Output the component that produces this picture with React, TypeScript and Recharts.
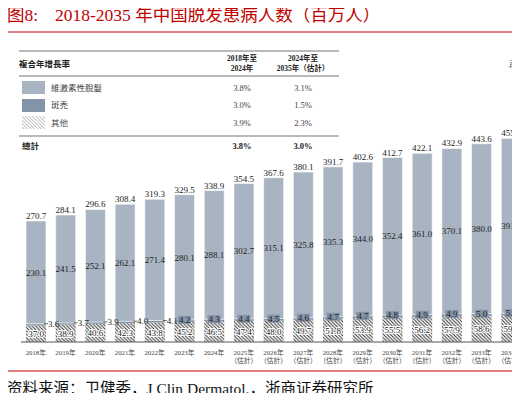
import React from "react";
import { BarChart, Bar, XAxis, YAxis, LabelList } from "recharts";

// 2018-2034 (the 2035 bar is off the right edge of the picture)
const years = ["2018", "2019", "2020", "2021", "2022", "2023", "2024", "2025", "2026", "2027", "2028", "2029", "2030", "2031", "2032", "2033", "2034"];
const otherValues = [37.0, 38.9, 40.6, 42.3, 43.8, 45.2, 46.5, 47.4, 48.0, 49.7, 51.8, 53.9, 55.5, 56.2, 57.9, 58.6, 59.4];
const areataValues = [3.6, 3.7, 3.9, 4.0, 4.1, 4.2, 4.3, 4.4, 4.5, 4.6, 4.7, 4.7, 4.8, 4.9, 4.9, 5.0, 5.0];
const androValues = [230.1, 241.5, 252.1, 262.1, 271.4, 280.1, 288.1, 302.7, 315.1, 325.8, 335.3, 344.0, 352.4, 361.0, 370.1, 380.0, 391.2];
const totalValues = [270.7, 284.1, 296.6, 308.4, 319.3, 329.5, 338.9, 354.5, 367.6, 380.1, 391.7, 402.6, 412.7, 422.1, 432.9, 443.6, 455.6];
const firstEstimateYear = 2025;

// CAGR table
const cagrRows = [
  { name: "維激素性脫髮", a: "3.8%", b: "3.1%" },
  { name: "斑禿", a: "3.0%", b: "1.5%" },
  { name: "其他", a: "3.9%", b: "2.3%" },
];
const cagrTotal = { name: "總計", a: "3.8%", b: "3.0%" };

const data = years.map((y, i) => ({
  year: y,
  other: otherValues[i],
  areata: areataValues[i],
  andro: androValues[i],
  total: totalValues[i],
}));

const LIGHT = "#a9b4c2";
const DARK = "#8393a8";
const SERIF = "'Liberation Serif', 'Noto Sans CJK SC', serif";
const TC = "'Liberation Serif', 'Noto Sans CJK TC', serif";
const SANS_TC = "'Noto Sans CJK TC', sans-serif";

const fmt = (v: any) => Number(v).toFixed(1);

const YearTick = (props: any) => {
  const { x, y, payload } = props;
  const est = Number(payload.value) >= firstEstimateYear;
  return (
    <g>
      <text x={x} y={y + 12.5} textAnchor="middle" fontSize={6.8} fill="#444" fontFamily={TC}>
        {payload.value}年
      </text>
      {est && (
        <text x={x} y={y + 21} textAnchor="middle" fontSize={6.8} fill="#444" fontFamily={TC}>
          （估計）
        </text>
      )}
    </g>
  );
};

const AreataLabel = (props: any) => {
  const { x, y, width, height, index, value } = props;
  const cy = y + height / 2 - 1;
  if (index < 5) {
    return (
      <g>
        <line x1={x + width - 2} x2={x + width + 2} y1={cy} y2={cy} stroke="#333" strokeWidth={0.7} />
        <text x={x + width + 2} y={cy + 3} fontSize={9} fill="#222" fontFamily={SERIF}>
          {fmt(value)}
        </text>
      </g>
    );
  }
  return (
    <g>
      <rect x={x + width / 2 - 6.5} y={cy - 4} width={13} height={8} fill={DARK} />
      <text x={x + width / 2} y={cy + 3} textAnchor="middle" fontSize={9} fill="#222" fontFamily={SERIF}>
        {fmt(value)}
      </text>
    </g>
  );
};

const OtherLabel = (props: any) => {
  const { x, y, width, height, value } = props;
  return (
    <text
      x={x + width / 2}
      y={y + height / 2 + 3.5}
      textAnchor="middle"
      fontSize={9}
      fill="#222"
      fontFamily={SERIF}
      stroke="#fff"
      strokeWidth={2}
      paintOrder="stroke"
    >
      {fmt(value)}
    </text>
  );
};

const CagrTable = () => {
  const rowY = [91, 108, 126];
  const swY = [81, 99, 116];
  return (
    <svg width={520} height={160} style={{ position: "absolute", left: 0, top: 0 }}>
      <defs>
        <pattern id="hatchLegend" width="3.5" height="3.5" patternUnits="userSpaceOnUse">
          <path d="M0,0 L3.5,3.5 M-1,2.5 L1,4.5 M2.5,-1 L4.5,1" stroke="#999" strokeWidth={0.8} />
        </pattern>
      </defs>
      <line x1={19} x2={339} y1={51} y2={51} stroke="#777" strokeWidth={1.2} />
      <line x1={19} x2={339} y1={76} y2={76} stroke="#777" strokeWidth={1.2} />
      <line x1={19} x2={339} y1={136} y2={136} stroke="#777" strokeWidth={1.2} />
      <text x={19} y={67} fontSize={8.5} fontWeight="bold" fill="#222" fontFamily={SANS_TC}>
        複合年增長率
      </text>
      <g fontSize={7.5} fontWeight="bold" fill="#222" fontFamily={TC} textAnchor="middle">
        <text x={242} y={61}>2018年至</text>
        <text x={242} y={71}>2024年</text>
        <text x={303} y={61}>2024年至</text>
        <text x={303} y={71}>2035年（估計）</text>
      </g>
      {cagrRows.map((r, i) => (
        <g key={r.name}>
          <rect
            x={22}
            y={swY[i]}
            width={23}
            height={13}
            fill={i === 0 ? LIGHT : i === 1 ? DARK : "url(#hatchLegend)"}
          />
          <text x={51} y={rowY[i]} fontSize={8.5} fill="#444" fontFamily={SANS_TC}>
            {r.name}
          </text>
          <text x={242} y={rowY[i]} fontSize={8.5} fill="#444" fontFamily={SERIF} textAnchor="middle">
            {r.a}
          </text>
          <text x={303} y={rowY[i]} fontSize={8.5} fill="#444" fontFamily={SERIF} textAnchor="middle">
            {r.b}
          </text>
        </g>
      ))}
      <text x={22} y={149} fontSize={8.5} fontWeight="bold" fill="#222" fontFamily={SANS_TC}>
        {cagrTotal.name}
      </text>
      <text x={242} y={149} fontSize={8.5} fontWeight="bold" fill="#222" fontFamily={SERIF} textAnchor="middle">
        {cagrTotal.a}
      </text>
      <text x={303} y={149} fontSize={8.5} fontWeight="bold" fill="#222" fontFamily={SERIF} textAnchor="middle">
        {cagrTotal.b}
      </text>
      <text x={508} y={67} fontSize={9} fontStyle="italic" fill="#555" fontFamily={SERIF}>
        百万人
      </text>
    </svg>
  );
}

export default function App() {
  return (
    <div style={{ position: "relative", margin: -8, width: 520, height: 401, overflow: "hidden", background: "#fff" }}>
      <svg width={520} height={40} style={{ position: "absolute", left: 0, top: 0 }}>
        <text y={21} fontSize={17.5} fill="#c00000" fontFamily={SERIF}>
          <tspan x={7}>图8:</tspan>
          <tspan x={55}>2018-2035 年中国脱发患病人数（百万人）</tspan>
        </text>
        <line x1={5} x2={515} y1={32} y2={32} stroke="#c00000" strokeWidth={1} />
      </svg>

      <div style={{ position: "absolute", left: 0, top: 0 }}>
        <BarChart
          width={540}
          height={372}
          data={data}
          margin={{ top: 118.5, right: 14, bottom: 0, left: 21 }}
          barSize={20}
        >
          <defs>
            <pattern id="hatchBar" width="3.5" height="3.5" patternUnits="userSpaceOnUse">
              <rect width="3.5" height="3.5" fill="#fff" />
              <path d="M0,0 L3.5,3.5 M-1,2.5 L1,4.5 M2.5,-1 L4.5,1" stroke="#333" strokeWidth={1} />
            </pattern>
          </defs>
          <XAxis
            dataKey="year"
            tick={<YearTick />}
            tickLine={false}
            tickSize={0}
            tickMargin={0}
            height={30}
            interval={0}
            axisLine={{ stroke: "#555", strokeWidth: 1 }}
          />
          <YAxis hide domain={[0, 500]} />
          <Bar dataKey="other" stackId="s" fill="url(#hatchBar)" isAnimationActive={false}>
            <LabelList dataKey="other" content={<OtherLabel />} />
          </Bar>
          <Bar dataKey="areata" stackId="s" fill={DARK} isAnimationActive={false}>
            <LabelList dataKey="areata" content={<AreataLabel />} />
          </Bar>
          <Bar dataKey="andro" stackId="s" fill={LIGHT} stroke="#fff" strokeWidth={0.6} isAnimationActive={false}>
            <LabelList dataKey="andro" position="center" formatter={fmt} fontSize={9} fill="#222" fontFamily={SERIF} />
            <LabelList dataKey="total" position="top" offset={2} formatter={fmt} fontSize={9} fill="#222" fontFamily={SERIF} />
          </Bar>
        </BarChart>
      </div>

      <CagrTable />

      <svg width={520} height={50} style={{ position: "absolute", left: 0, top: 360 }}>
        <line x1={5} x2={515} y1={11} y2={11} stroke="#c00000" strokeWidth={1} />
        <text x={7} y={34} fontSize={15.5} fill="#111" fontFamily={SERIF}>
          资料来源：卫健委，J Clin Dermatol.，浙商证券研究所
        </text>
      </svg>
    </div>
  );
}
